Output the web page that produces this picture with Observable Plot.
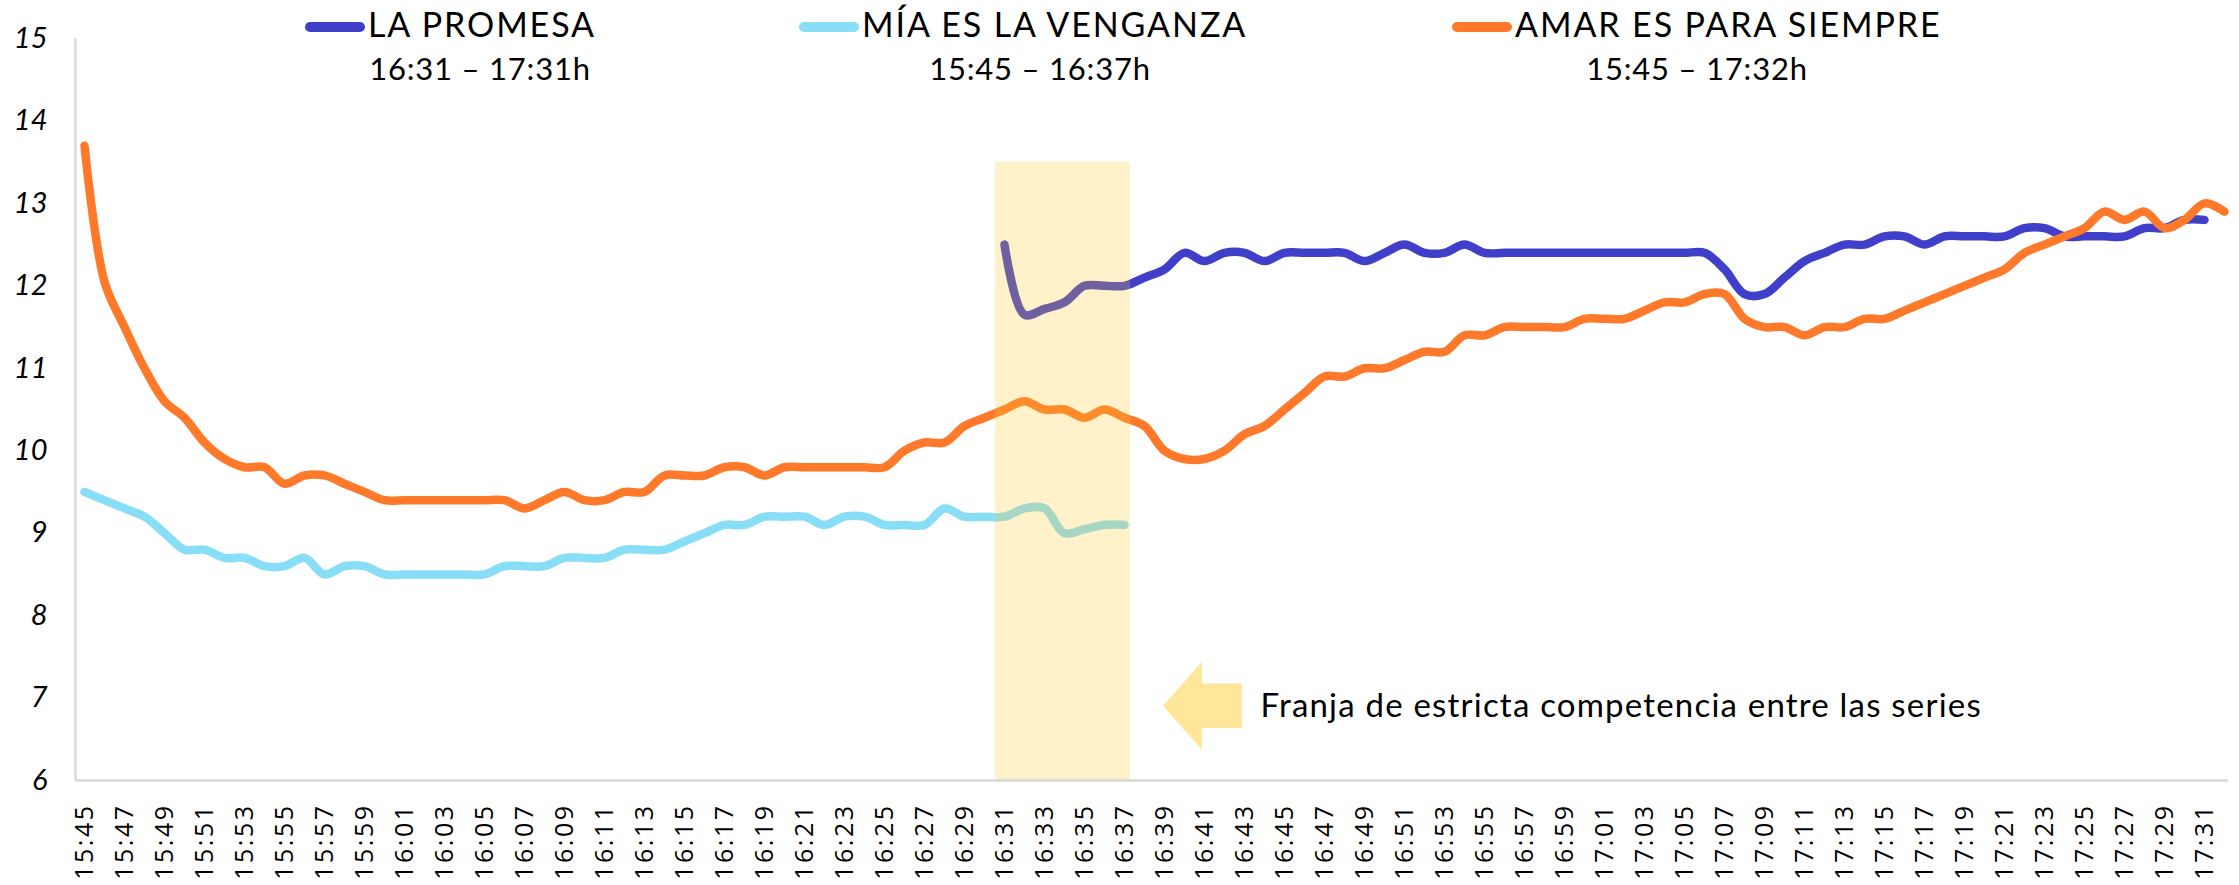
<!DOCTYPE html>
<html><head><meta charset="utf-8">
<script src="https://cdn.jsdelivr.net/npm/d3@7"></script>
<script src="https://cdn.jsdelivr.net/npm/@observablehq/plot@0.6"></script>
<style>
html,body{margin:0;padding:0;background:#fff;}
#wrap{position:relative;width:2239px;height:885px;}
#wrap svg.legend{position:absolute;left:0;top:0;pointer-events:none;}
g[aria-label="x-axis tick label"] text{letter-spacing:2.5px;}
</style></head>
<body><div id="wrap"></div>
<script>
const times = ["15:45","15:46","15:47","15:48","15:49","15:50","15:51","15:52","15:53","15:54","15:55","15:56","15:57","15:58","15:59",
"16:00","16:01","16:02","16:03","16:04","16:05","16:06","16:07","16:08","16:09","16:10","16:11","16:12","16:13","16:14","16:15","16:16","16:17","16:18","16:19","16:20","16:21","16:22","16:23","16:24","16:25","16:26","16:27","16:28","16:29","16:30","16:31","16:32","16:33","16:34","16:35","16:36","16:37","16:38","16:39","16:40","16:41","16:42","16:43","16:44","16:45","16:46","16:47","16:48","16:49","16:50","16:51","16:52","16:53","16:54","16:55","16:56","16:57","16:58","16:59",
"17:00","17:01","17:02","17:03","17:04","17:05","17:06","17:07","17:08","17:09","17:10","17:11","17:12","17:13","17:14","17:15","17:16","17:17","17:18","17:19","17:20","17:21","17:22","17:23","17:24","17:25","17:26","17:27","17:28","17:29","17:30","17:31","17:32"];

const seriesNames = ["LA PROMESA", "MÍA ES LA VENGANZA", "AMAR ES PARA SIEMPRE"];
const seriesRanges = ["16:31 – 17:31h", "15:45 – 16:37h", "15:45 – 17:32h"];
const seriesStart = ["16:31", "15:45", "15:45"];
const seriesColors = ["#3F3FC9", "#88DDF7", "#FF792B"];

const promesa = [12.5,11.65,11.72,11.8,12.0,12.0,12.0,12.1,12.2,12.4,12.3,12.4,12.4,12.3,12.4,12.4,12.4,12.4,12.3,12.4,12.5,12.4,12.4,12.5,12.4,
12.4,12.4,12.4,12.4,12.4,12.4,12.4,12.4,12.4,12.4,12.4,12.2,11.9,11.9,12.1,12.3,12.4,12.5,12.5,12.6,12.6,12.5,12.6,12.6,12.6,12.6,12.7,12.7,12.6,12.6,12.6,12.6,12.7,12.7,12.8,12.8];
const mia = [9.5,9.4,9.3,9.2,9.0,8.8,8.8,8.7,8.7,8.6,8.6,8.7,8.5,8.6,8.6,8.5,8.5,8.5,8.5,8.5,8.5,8.6,8.6,8.6,8.7,8.7,8.7,8.8,8.8,8.8,
8.9,9.0,9.1,9.1,9.2,9.2,9.2,9.1,9.2,9.2,9.1,9.1,9.1,9.3,9.2,9.2,9.2,9.3,9.3,9.0,9.05,9.1,9.1];
const amar = [13.7,12.05,11.5,11.0,10.6,10.4,10.1,9.9,9.8,9.8,9.6,9.7,9.7,9.6,9.5,9.4,9.4,9.4,9.4,9.4,9.4,9.4,9.3,9.4,9.5,9.4,9.4,9.5,9.5,9.7,
9.7,9.7,9.8,9.8,9.7,9.8,9.8,9.8,9.8,9.8,9.8,10.0,10.1,10.1,10.3,10.4,10.5,10.6,10.5,10.5,10.4,10.5,10.4,10.3,10.0,9.9,9.9,10.0,10.2,10.3,
10.5,10.7,10.9,10.9,11.0,11.0,11.1,11.2,11.2,11.4,11.4,11.5,11.5,11.5,11.5,11.6,11.6,11.6,11.7,11.8,11.8,11.9,11.9,11.6,11.5,11.5,11.4,11.5,11.5,11.6,
11.6,11.7,11.8,11.9,12.0,12.1,12.2,12.4,12.5,12.6,12.7,12.9,12.8,12.9,12.7,12.8,13.0,12.9];

const yTicks = [6,7,8,9,10,11,12,13,14,15];
const bandX = [45.55, 52.3];   // competition band, in minute-index units
const bandY = [6, 13.5];
const noteText = "Franja de estricta competencia entre las series";
const noteAt = [58.8, 6.9];    // minute index, audience
const arrowX = [53.95, 55.9, 57.9];   // tip, head base, tail
const arrowY = [6.9, 0.535, 0.27];    // centre, head half-height, shaft half-height

const seriesValues = [promesa, mia, amar];
const rows = seriesValues.map((vals, s) => {
  const start = times.indexOf(seriesStart[s]);
  return vals.map((v, k) => ({i: start + k, t: times[start + k], v, s}));
});

const xTicks = times.map((t, i) => i).filter(i => i % 2 === 0);

function arrowMark(index, scales) {
  const {x, y} = scales;
  const [tip, base, tail] = arrowX.map(x);
  const cy = y(arrowY[0]);
  const hh = y(arrowY[0] - arrowY[1]) - cy;
  const sh = y(arrowY[0] - arrowY[2]) - cy;
  const pts = [[tip, cy], [base, cy - hh], [base, cy - sh], [tail, cy - sh], [tail, cy + sh], [base, cy + sh], [base, cy + hh]];
  const g = d3.create("svg:g");
  g.append("polygon").attr("points", pts.map(p => p.join(",")).join(" ")).attr("fill", "#FFE699");
  return g.node();
}

const lineOpts = (s) => ({x: "i", y: "v", stroke: seriesColors[s], strokeWidth: 8.5, curve: "catmull-rom", strokeLinecap: "round", strokeLinejoin: "round"});

const chart = Plot.plot({
  width: 2239, height: 885,
  marginLeft: 75, marginRight: 11, marginTop: 38, marginBottom: 105,
  style: {fontFamily: "Lato, 'Noto Sans', sans-serif", color: "#000", background: "#fff"},
  x: {domain: [-0.45, 107.2], label: null},
  y: {domain: [6, 15], label: null},
  marks: [
    Plot.line(rows[0], lineOpts(0)),
    Plot.line(rows[1], lineOpts(1)),
    Plot.line(rows[2], lineOpts(2)),
    Plot.rect([0], {x1: () => bandX[0], x2: () => bandX[1], y1: () => bandY[0], y2: () => bandY[1], fill: "#FFC828", fillOpacity: 0.25}),
    Plot.ruleX([-0.45], {y1: 6, y2: 15, stroke: "#D9D9D9", strokeWidth: 2.5}),
    Plot.ruleY([6], {stroke: "#D9D9D9", strokeWidth: 2.5}),
    Plot.axisY({ticks: yTicks, label: null, tickSize: 0, tickPadding: 28, fontSize: 29, fontStyle: "italic", tickFormat: d => String(d)}),
    Plot.axisX({ticks: xTicks, label: null, tickFormat: i => times[i], tickRotate: -90, tickSize: 0, tickPadding: 23, fontSize: 25, fontFamily: "'Open Sans', sans-serif"}),
    arrowMark,
    Plot.text([noteText], {x: () => noteAt[0], y: () => noteAt[1], text: d => d, textAnchor: "start", fontSize: 33, fill: "#000"})
  ]
});

const wrap = document.getElementById("wrap");
wrap.appendChild(chart);
d3.select(chart).selectAll('g[aria-label="text"] text').style("letter-spacing", "1.2px");

// legend overlay
const legendLayout = [{textX: 368, subX: 480}, {textX: 862, subX: 1040}, {textX: 1515, subX: 1697}];
const leg = d3.select(wrap).append("svg").attr("class", "legend").attr("width", 2239).attr("height", 100)
  .style("font-family", "Lato, 'Noto Sans', sans-serif");
seriesNames.forEach((name, s) => {
  const L = legendLayout[s];
  leg.append("line").attr("x1", L.textX - 58).attr("x2", L.textX - 8).attr("y1", 27).attr("y2", 27)
    .attr("stroke", seriesColors[s]).attr("stroke-width", 10).attr("stroke-linecap", "round");
  leg.append("text").attr("x", L.textX).attr("y", 37).attr("font-size", 34).attr("letter-spacing", "1.9px").attr("fill", "#000").text(name);
  leg.append("text").attr("x", L.subX).attr("y", 80).attr("font-size", 31).attr("letter-spacing", "0.8px").attr("text-anchor", "middle").attr("fill", "#000").text(seriesRanges[s]);
});
</script>
</body></html>
